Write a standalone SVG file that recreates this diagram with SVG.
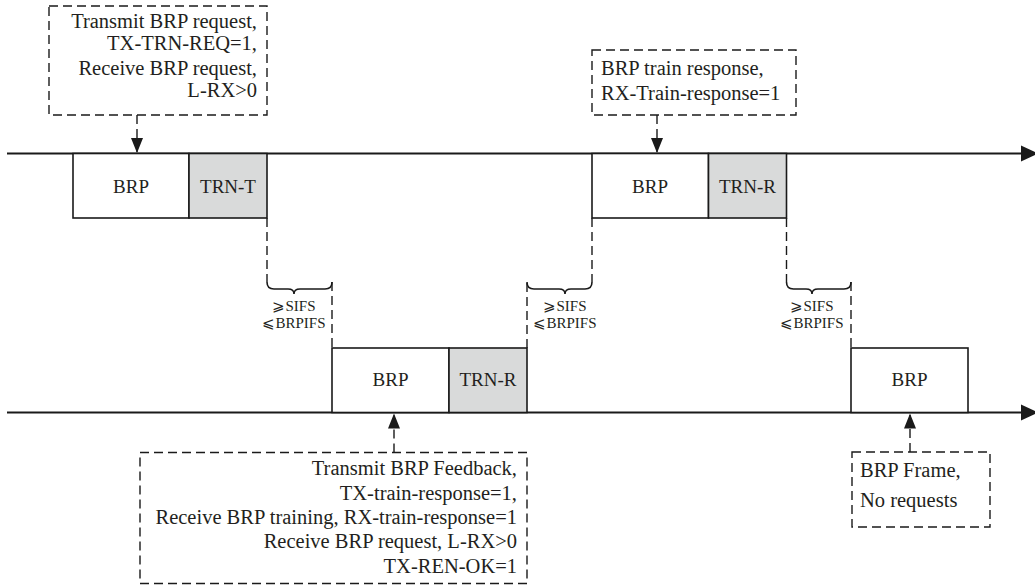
<svg xmlns="http://www.w3.org/2000/svg" width="1035" height="586" viewBox="0 0 1035 586">
  <defs>
    <marker id="ah" markerWidth="15" markerHeight="12" refX="15" refY="6" orient="auto" markerUnits="userSpaceOnUse" viewBox="0 0 15 12">
      <path d="M0,0 L15,6 L0,12 Z" fill="#1a1a1a"/>
    </marker>
    <style>
      .tl { stroke:#1a1a1a; stroke-width:2; fill:none; }
      .frame { stroke:#1a1a1a; stroke-width:1.6; fill:#ffffff; }
      .trn { stroke:#1a1a1a; stroke-width:1.6; fill:#d9dada; }
      .note { stroke:#1a1a1a; stroke-width:1.4; fill:none; stroke-dasharray:9 5; }
      .dash { stroke:#1a1a1a; stroke-width:1.4; fill:none; stroke-dasharray:9 5; }
      .brace { stroke:#1a1a1a; stroke-width:1.6; fill:none; }
      .lbl { font-size:19px; text-anchor:middle; }
      .nt { font-size:20.5px; }
      .r { text-anchor:end; }
      .ifs { font-size:15px; text-anchor:middle; }
    </style>
  </defs>

  <g id="timelines">
    <line class="tl" x1="7" y1="153.5" x2="1024" y2="153.5"/>
    <polygon points="1021,145.5 1038,153.5 1021,161.5" fill="#1a1a1a"/>
    <line class="tl" x1="7" y1="412.5" x2="1024" y2="412.5"/>
    <polygon points="1021,404.5 1038,412.5 1021,420.5" fill="#1a1a1a"/>
  </g>

  <g font-family="Liberation Serif, Times New Roman, serif" fill="#231f20">
  <g id="frame-brp-1">
    <rect class="frame" x="73" y="153.5" width="116" height="64.5"/>
    <text class="lbl" x="131" y="192.5">BRP</text>
  </g>
  <g id="frame-trn-t">
    <rect class="trn" x="189" y="153.5" width="78" height="64.5"/>
    <text class="lbl" x="228" y="192.5">TRN-T</text>
  </g>
  <g id="frame-brp-2">
    <rect class="frame" x="332" y="348" width="117" height="64.5"/>
    <text class="lbl" x="390.5" y="386">BRP</text>
  </g>
  <g id="frame-trn-r-1">
    <rect class="trn" x="449" y="348" width="78" height="64.5"/>
    <text class="lbl" x="488" y="386">TRN-R</text>
  </g>
  <g id="frame-brp-3">
    <rect class="frame" x="592" y="153.5" width="116.5" height="64.5"/>
    <text class="lbl" x="650" y="192.5">BRP</text>
  </g>
  <g id="frame-trn-r-2">
    <rect class="trn" x="708.5" y="153.5" width="78" height="64.5"/>
    <text class="lbl" x="747.5" y="192.5">TRN-R</text>
  </g>
  <g id="frame-brp-4">
    <rect class="frame" x="851" y="348" width="117" height="64.5"/>
    <text class="lbl" x="909.5" y="386">BRP</text>
  </g>

  <g id="note-1">
    <rect class="note" x="49" y="6" width="218" height="109"/>
    <text class="nt r" x="257" y="28">Transmit BRP request,</text>
    <text class="nt r" x="257" y="50">TX-TRN-REQ=1,</text>
    <text class="nt r" x="257" y="75">Receive BRP request,</text>
    <text class="nt r" x="257" y="97">L-RX&gt;0</text>
  </g>
  <g id="note-2">
    <rect class="note" x="592" y="50" width="204" height="65"/>
    <text class="nt" x="601" y="75">BRP train response,</text>
    <text class="nt" x="601" y="100">RX-Train-response=1</text>
  </g>
  <g id="note-3">
    <rect class="note" x="140" y="452.5" width="387" height="131"/>
    <text class="nt r" x="517" y="475">Transmit BRP Feedback,</text>
    <text class="nt r" x="517" y="500">TX-train-response=1,</text>
    <text class="nt r" x="517" y="524">Receive BRP training, RX-train-response=1</text>
    <text class="nt r" x="517" y="548">Receive BRP request, L-RX&gt;0</text>
    <text class="nt r" x="517" y="573">TX-REN-OK=1</text>
  </g>
  <g id="note-4">
    <rect class="note" x="852" y="452" width="138" height="75"/>
    <text class="nt" x="860" y="477">BRP Frame,</text>
    <text class="nt" x="860" y="507">No requests</text>
  </g>

  <g id="ifs-1">
    <path class="brace" d="M267,282 q0,7 7,7 H288 q6,0 6,5 q0,-5 6,-5 H325 q7,0 7,-7"/>
    <text class="ifs" x="294" y="311">⩾SIFS</text>
    <text class="ifs" x="294" y="328">⩽BRPIFS</text>
  </g>
  <g id="ifs-2">
    <path class="brace" d="M527,282 q0,7 7,7 H559 q6,0 6,5 q0,-5 6,-5 H585 q7,0 7,-7"/>
    <text class="ifs" x="565" y="311">⩾SIFS</text>
    <text class="ifs" x="565" y="328">⩽BRPIFS</text>
  </g>
  <g id="ifs-3">
    <path class="brace" d="M786.5,282 q0,7 7,7 H806 q6,0 6,5 q0,-5 6,-5 H844 q7,0 7,-7"/>
    <text class="ifs" x="812" y="311">⩾SIFS</text>
    <text class="ifs" x="812" y="328">⩽BRPIFS</text>
  </g>
  </g>

  <g id="connectors">
    <line class="dash" x1="137" y1="115" x2="137" y2="153" marker-end="url(#ah)"/>
    <line class="dash" x1="657" y1="115" x2="657" y2="153" marker-end="url(#ah)"/>
    <line class="dash" x1="394" y1="452.5" x2="394" y2="413.5" marker-end="url(#ah)"/>
    <line class="dash" x1="910" y1="452" x2="910" y2="413.5" marker-end="url(#ah)"/>
    <line class="dash" x1="267" y1="218" x2="267" y2="282"/>
    <line class="dash" x1="332" y1="282" x2="332" y2="348"/>
    <line class="dash" x1="527" y1="348" x2="527" y2="282"/>
    <line class="dash" x1="592" y1="218" x2="592" y2="282"/>
    <line class="dash" x1="786.5" y1="218" x2="786.5" y2="282"/>
    <line class="dash" x1="851" y1="282" x2="851" y2="348"/>
  </g>
</svg>
